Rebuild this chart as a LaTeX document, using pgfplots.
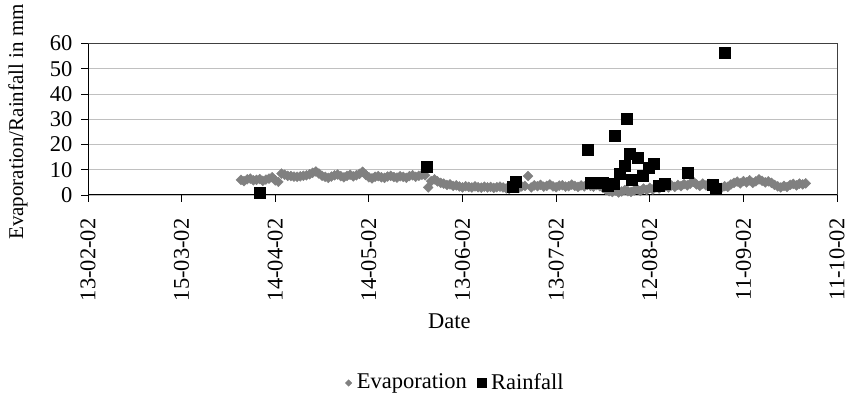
\documentclass[border=0pt]{standalone}
\usepackage{fontspec}
\setmainfont{Liberation Serif}
\usepackage{pgfplots}
\pgfplotsset{compat=1.18}

\definecolor{evap}{HTML}{808080}
\definecolor{gridgray}{HTML}{C0C0C0}
\newcommand\fz{\fontsize{22.5}{26}\selectfont}

% Daily evaporation (day counted from 13-02-02, value in mm)
\pgfplotstableread{
day val
49 6.0
50 5.5
51 6.2
52 6.5
53 5.8
54 6.0
55 6.3
56 5.6
57 6.1
58 6.5
59 7.0
60 5.8
61 5.2
62 8.5
63 8.0
64 7.6
65 7.5
66 7.3
67 7.2
68 7.4
69 7.6
70 7.8
71 8.2
72 8.8
73 9.3
74 8.5
75 7.6
76 7.2
77 6.8
78 7.3
79 7.8
80 8.1
81 7.5
82 7.0
83 7.6
84 8.0
85 7.4
86 7.8
87 8.4
88 9.2
89 8.0
90 7.0
91 6.6
92 7.2
93 7.5
94 7.0
95 6.8
96 7.3
97 7.6
98 7.1
99 6.9
100 7.4
101 7.2
102 6.8
103 7.5
104 7.8
105 7.2
106 7.6
107 8.0
108 7.8
109 3.0
110 5.5
111 6.2
112 5.4
113 4.8
114 4.5
115 4.0
116 4.2
117 3.6
118 3.8
119 3.4
120 3.0
121 3.5
122 3.2
123 3.0
124 3.4
125 3.1
126 2.9
127 3.3
128 3.0
129 3.2
130 2.8
131 3.1
132 3.3
133 3.0
134 2.6
135 2.4
136 3.2
137 3.5
138 2.8
139 3.4
140 3.6
141 7.5
142 3.0
143 3.8
144 3.5
145 4.0
146 3.3
147 3.6
148 4.2
149 3.4
150 3.1
151 3.7
152 3.9
153 3.3
154 3.5
155 4.1
156 3.6
157 3.2
158 3.8
159 3.4
160 4.0
161 3.6
162 3.3
163 3.9
164 3.5
165 2.8
166 2.0
167 1.5
168 1.2
169 1.8
170 1.0
171 1.4
172 2.0
173 1.5
174 1.2
175 1.8
176 2.3
177 1.6
178 2.5
179 2.0
180 2.8
181 2.2
182 3.0
183 2.6
184 3.3
185 3.5
186 3.0
187 3.8
188 3.2
189 4.0
190 3.5
191 4.3
192 3.8
193 4.5
194 5.2
195 4.2
196 3.6
197 4.5
198 3.8
199 4.4
200 3.5
201 3.0
202 2.5
203 2.8
204 3.5
205 3.2
206 4.2
207 4.8
208 5.3
209 4.6
210 5.5
211 5.0
212 5.8
213 4.8
214 5.4
215 6.2
216 5.6
217 5.0
218 5.4
219 4.8
220 4.0
221 3.4
222 3.0
223 3.6
224 3.2
225 4.0
226 4.4
227 3.8
228 4.5
229 4.2
230 4.6
}\evaporation

% Rainfall events (day counted from 13-02-02, value in mm)
\pgfplotstableread{
day val
55 1.1
108.5 11.3
136.2 3.2
136.9 5.1
160 17.8
161 5.0
164.8 4.8
166.5 3.8
168.3 4.4
168.7 23.4
170.3 8.3
171.9 11.5
172.7 30.4
173.7 16.2
174.3 5.9
176 14.6
177.8 7.6
179.6 10.7
181.3 12.3
182.9 3.7
184.7 4.3
192 9.0
200.2 4.0
201 2.6
204 56.5
}\rainfall

\begin{document}
\fz
\begin{tikzpicture}
\useasboundingbox (0,0) rectangle (848pt,403pt);
\begin{axis}[
  at={(88pt,208pt)}, anchor=south west,
  scale only axis, width=749pt, height=151.5pt,
  xmin=0, xmax=240, ymin=0, ymax=60,
  xtick={0,30,...,240},
  xticklabels={13-02-02,15-03-02,14-04-02,14-05-02,13-06-02,13-07-02,12-08-02,11-09-02,11-10-02},
  ytick={0,10,...,60},
  xtick pos=lower, ytick pos=left,
  ymajorgrids, grid style={gridgray, line width=0.9pt},
  tick align=outside, major tick length=7pt,
  tick style={black, line width=0.9pt},
  axis line style={draw=black!75, line width=1pt},
  /pgf/number format/assume math mode=true,
  ticklabel style={font=\fz},
  xticklabel style={rotate=90, anchor=east},
  xticklabel shift=9pt,
  yticklabel shift=1pt,
  xlabel={Date},
  ylabel={Evaporation/Rainfall in mm},
  xlabel style={font=\fz, at={(axis description cs:0.4826,-0.832)}, anchor=center},
  ylabel style={font=\fontsize{21}{24}\selectfont,
    at={(axis description cs:-0.0935,0.482)}, anchor=center},
  clip=false,
  legend columns=-1,
  legend style={draw=none, fill=none, font=\fz,
    at={(axis description cs:0.4906,-1.241)}, anchor=center,
    /tikz/every odd column/.append style={column sep=3pt},
    /tikz/every even column/.append style={column sep=8pt}},
]
\addplot[only marks, mark=square*, mark size=3.5pt,
  mark options={rotate=45, fill=evap, draw=evap},
  legend image post style={mark size=2.3pt}]
  table[x=day, y=val] {\evaporation};
\addlegendentry{Evaporation}
\addplot[only marks, mark=square*, mark size=5.5pt,
  mark options={fill=black, draw=black},
  legend image post style={mark size=4.6pt}]
  table[x=day, y=val] {\rainfall};
\addlegendentry{Rainfall}
\draw[black, line width=1pt] (rel axis cs:0,1) -- (rel axis cs:0,0) -- (rel axis cs:1,0);
\end{axis}
\end{tikzpicture}
\end{document}
